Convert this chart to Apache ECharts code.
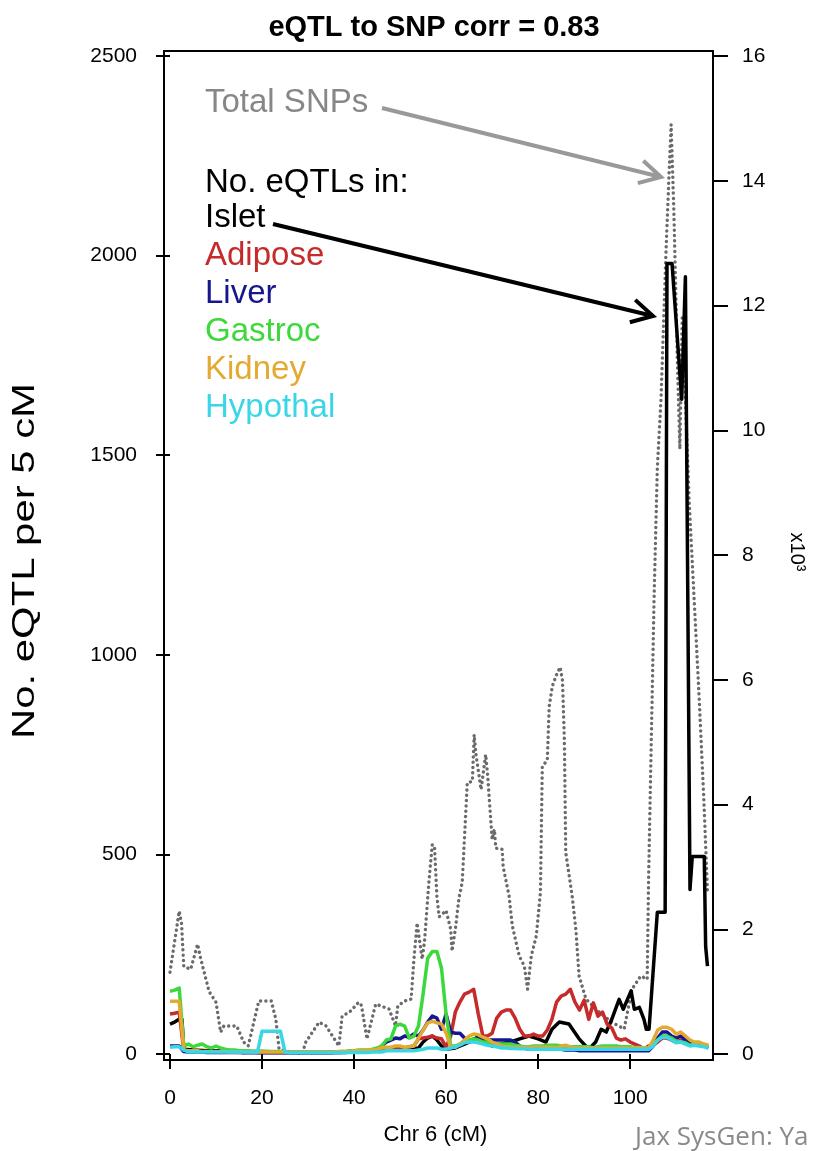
<!DOCTYPE html>
<html><head><meta charset="utf-8">
<script src="https://cdn.jsdelivr.net/npm/echarts@6/dist/echarts.min.js"></script>
<style>html,body{margin:0;padding:0;background:#fff}#c{width:813px;height:1151px}</style>
</head><body><div id="c"></div>
<script>
// ---- data ----
const cM = [0,1,2,3,4,5,6,7,8,9,10,11,12,13,14,15,16,17,18,19,20,21,22,23,24,25,26,27,28,29,30,31,32,33,34,35,36,37,38,39,40,41,42,43,44,45,46,47,48,49,50,51,52,53,54,55,56,57,58,59,60,61,62,63,64,65,66,67,68,69,70,71,72,73,74,75,76,77,78,79,80,81,82,83,84,85,86,87,88,89,90,91,92,93,94,95,96,97,98,99,100,101,102,103,104,105,106,107,108,109,110,111,112,113,114,115,116,117];
const adipose = [100,102,105,8,6,8,6,5,6,5, 5,5,5,6,5,5,4,5,5,4, 4,4,4,4,4,4,3,3,3,3, 3,3,3,3,3,3,4,4,5,5, 5,6,6,6,7,8,10,10,10,12, 12,15,18,20,38,40,42,45,40,38, 17,45,105,130,150,155,162,100,45,45, 52,90,105,110,110,90,62,45,45,50, 45,45,60,87,130,145,150,162,130,110, 135,87,128,95,105,75,65,40,35,38, 30,25,20,12,20,22,30,40,40,35, 30,35,28,22,25,22,20,15];
const liver = [20,20,20,6,5,5,5,5,4,4, 4,4,4,4,4,4,3,3,3,3, 3,3,3,3,3,3,3,3,3,3, 3,3,3,3,3,3,4,4,4,5, 5,5,6,6,8,10,20,30,35,40, 38,45,42,50,45,60,80,95,90,62, 100,55,52,52,40,30,38,38,38,36, 35,35,35,35,35,30,20,15,12,12, 12,12,12,15,15,12,10,10,10,8, 8,8,8,8,8,8,8,8,8,8, 8,8,8,8,8,20,40,55,55,45, 40,45,35,30,25,25,20,20];
const gastroc = [157,160,165,20,25,18,22,25,18,15, 20,15,12,10,10,8,8,8,6,6, 6,6,6,6,6,6,5,5,5,5, 5,5,5,5,5,5,5,6,6,8, 8,10,10,10,12,15,20,35,38,70, 75,70,40,45,70,150,240,257,257,215, 100,20,20,25,30,35,38,35,30,30, 28,25,25,25,25,22,20,18,18,20, 20,20,22,22,22,20,18,18,18,18, 18,18,16,18,20,20,20,20,18,18, 18,16,16,15,15,25,35,45,45,40, 32,30,28,22,25,22,20,15];
const kidney = [132,132,132,10,8,8,8,6,6,6, 6,6,6,5,5,5,5,5,5,5, 5,5,5,5,5,5,5,5,5,5, 5,5,5,5,5,5,5,6,6,6, 8,8,8,10,10,12,15,17,17,20, 20,17,18,20,40,60,78,82,78,75, 52,17,17,25,35,45,50,48,42,38, 30,25,20,17,17,17,17,17,17,17, 17,17,17,17,15,20,22,18,16,15, 15,15,15,15,15,15,15,15,15,15, 15,15,15,15,15,35,60,67,67,62, 50,55,45,35,30,30,25,22];
const hypothal = [17,18,18,10,5,5,5,5,5,5, 5,5,5,5,5,5,5,5,5,5, 57,57,57,57,57,5,3,3,3,3, 3,3,3,3,3,3,3,3,3,4, 4,4,4,4,5,5,5,8,8,8, 8,8,8,8,10,12,15,15,15,12, 12,15,18,22,28,30,30,28,25,22, 20,18,15,15,14,14,13,13,12,12, 12,12,12,12,12,12,12,12,12,12, 12,12,12,12,12,12,12,12,12,12, 12,12,12,12,12,20,35,42,42,35, 28,30,25,20,22,20,18,15];
const islet_cM = [0,1,2,2.6,3,5,8,12,16,20,24,28,32,36,40,44,46,48,50,52,54,55,56,57,58,59,60,62,64,66,67,68,70,72,74,76,78,80,81.7,83,84.6,86.7,88.9,91,92.5,93.7,94.8,96,97.6,98.5,100.2,100.9,102,103,103.5,104.1,105.9,107.6,108,109.1,111.2,112,113,113.5,116.1,116.4,116.8];
const islet = [75,80,87,87,12,10,8,8,6,6,5,5,5,5,6,8,10,15,15,12,15,30,40,45,35,20,12,15,25,35,45,35,20,25,30,38,45,38,30,62,80,75,38,12,30,62,55,87,137,112,158,112,117,87,62,62,355,355,1980,1980,1640,1947,412,495,495,270,220];
const snp_cM = [0,1,2,2.5,3,4.5,6,6.7,8.5,10, 11,11.7,14.5,16,17,19.3,22,23,23.7,25, 28.7,29.5,32.4,33.9,36.7,37.4,39,41,41.6,42.8, 44.7,47.6,49,49.5,51,52.4,53,53.7,54.8,55.3, 56.3,57,57.5,58,58.5,60,61,61.3,62,62.8, 63.5,64.6,65.7,66.1,66.5,67.6,68.6,69,70,70.5, 70.8,72.2,72.4,73.7,74.4,75.9,77,77.7,78.5,79.6, 80.5,80.9,82,82.4,83.1,84.1,84.8,85.3,85.7,86, 87.4,88.2,88.9,90.4,93.3,96,98.7,100.4,102.3,103.7, 104,105.2,105.9,106.7,107.8,108.5,108.9,109.5,110.3,110.8, 111.3,112,112.8,113.9,115,116,116.8];
const snp_k = [1.31,1.8,2.29,2.1,1.4,1.36,1.76,1.52,1.0,0.83, 0.35,0.45,0.45,0.19,0.13,0.85,0.85,0.56,0.08,0.05, 0.0,0.19,0.51,0.45,0.13,0.61,0.67,0.83,0.78,0.24, 0.8,0.72,0.45,0.77,0.85,0.88,1.52,2.1,1.52,1.8, 2.8,3.36,3.3,2.53,2.2,2.3,2.0,1.65,2.0,2.5, 2.75,4.35,4.37,5.12,4.8,4.24,4.8,4.5,3.44,3.6, 3.3,3.28,3.0,2.53,2.05,1.57,1.41,1.04,1.57,1.89, 2.6,4.6,4.72,5.57,5.9,6.1,6.2,5.98,5.04,3.23, 2.53,2.0,1.25,0.88,0.67,0.51,0.4,1.04,1.25,1.2, 2.8,7.33,9.4,10.5,12.9,14.2,14.9,13.5,11.0,9.7, 11.8,10.5,8.9,7.3,5.7,4.1,2.6];
const xTicks = [0,20,40,60,80,100];
const legendNames = ['Islet','Adipose','Liver','Gastroc','Kidney','Hypothal'];

// ---- styles ----
const FONT = '"Liberation Sans", Arial, Helvetica, sans-serif';
const colors = {Islet:'#000000', Adipose:'#c62a2a', Liver:'#16168e', Gastroc:'#3cd83c', Kidney:'#e3aa32', Hypothal:'#3ad6e6'};

const zip = (xs, ys) => xs.map((x, i) => [x, ys[i]]);
const tissueSeries = [
  ['Islet', zip(islet_cM, islet)],
  ['Adipose', zip(cM, adipose)],
  ['Liver', zip(cM, liver)],
  ['Gastroc', zip(cM, gastroc)],
  ['Kidney', zip(cM, kidney)],
  ['Hypothal', zip(cM, hypothal)]
].map(([name, data]) => ({
  name, type:'line', data, xAxisIndex:0, yAxisIndex:0, showSymbol:false, symbol:'none',
  lineStyle:{color:colors[name], width:3.5, join:'round'}, itemStyle:{color:colors[name]}, z:3
}));

const chart = echarts.init(document.getElementById('c'), null, {renderer:'canvas'});

function arrow(x1, y1, x2, y2, color, w) {
  const ang = Math.atan2(y2 - y1, x2 - x1), L = 24, a = 0.5;
  return [
    {type:'polyline', shape:{points:[[x1,y1],[x2,y2]]}, style:{stroke:color, lineWidth:w, fill:null}, z:10},
    {type:'polyline', shape:{points:[[x2 - L*Math.cos(ang - a), y2 - L*Math.sin(ang - a)],[x2,y2],[x2 - L*Math.cos(ang + a), y2 - L*Math.sin(ang + a)]]},
     style:{stroke:color, lineWidth:w, fill:null, lineJoin:'miter'}, z:10}
  ];
}

const legendTexts = [
  {text:'Total SNPs', y:103, fill:'#878787'},
  {text:'No. eQTLs in:', y:183, fill:'#000'}
].concat(legendNames.map((n, i) => ({text:n, y:218 + 38*i, fill:colors[n]})));

const graphics = [
  {type:'rect', shape:{x:164, y:51, width:549, height:1009}, style:{fill:null, stroke:'#000', lineWidth:2}, z:20},
  {type:'text', x:25, y:561, rotation:Math.PI/2, scaleX:1.35,
   style:{text:'No. eQTL per 5 cM', font:'31px ' + FONT, fill:'#000', align:'center', verticalAlign:'middle'}, z:20},
  {type:'text', x:797, y:552, rotation:-Math.PI/2,
   style:{text:'x10³', font:'20px ' + FONT, fill:'#000', align:'center', verticalAlign:'middle'}, z:20},
  {type:'text', x:635, y:1138,
   style:{text:'Jax SysGen: Ya', font:'26px "Open Sans", sans-serif', fill:'#8a8a8a', align:'left', verticalAlign:'middle'}, z:20}
].concat(legendTexts.map(t => ({type:'text', x:205, y:t.y,
   style:{text:t.text, font:'33px ' + FONT, fill:t.fill, align:'left', verticalAlign:'middle'}, z:20})))
 .concat(arrow(382, 108, 661, 177, '#999999', 4))
 .concat(arrow(273, 224, 653, 316, '#000000', 4));

chart.setOption({
  animation:false,
  backgroundColor:'#fff',
  title:{text:'eQTL to SNP corr = 0.83', left:429, textAlign:'center', top:8,
         textStyle:{fontFamily:FONT, fontWeight:'bold', fontSize:29, color:'#000'}},
  grid:{left:170, right:100, top:56, bottom:95},
  xAxis:{type:'value', min:0, max:118, offset:4,
    name:'Chr 6 (cM)', nameLocation:'middle', nameGap:66,
    nameTextStyle:{fontFamily:FONT, fontSize:22, color:'#000', padding:[0,12,0,0]},
    axisLine:{show:false}, splitLine:{show:false},
    axisTick:{show:true, length:15, customValues:xTicks, lineStyle:{color:'#000', width:2}},
    axisLabel:{customValues:xTicks, margin:30, fontFamily:FONT, fontSize:21, color:'#000'}},
  yAxis:[
    {type:'value', min:0, max:2500, interval:500, position:'left', offset:6,
     axisLine:{show:false}, splitLine:{show:false},
     axisTick:{show:true, length:14, lineStyle:{color:'#000', width:2}},
     axisLabel:{margin:27, fontFamily:FONT, fontSize:21, color:'#000', formatter:v => String(v)}},
    {type:'value', min:0, max:16, interval:2, position:'right', offset:0,
     axisLine:{show:false}, splitLine:{show:false},
     axisTick:{show:true, length:15, lineStyle:{color:'#000', width:2}},
     axisLabel:{margin:29, fontFamily:FONT, fontSize:21, color:'#000'}}
  ],
  series:[{
    name:'Total SNPs', type:'line', data:zip(snp_cM, snp_k), xAxisIndex:0, yAxisIndex:1,
    showSymbol:false, symbol:'none', z:2,
    lineStyle:{color:'#6a6a6a', width:3.4, type:[0.1, 5.2], cap:'round', join:'round'}
  }].concat(tissueSeries),
  graphic:graphics
});
</script></body></html>
